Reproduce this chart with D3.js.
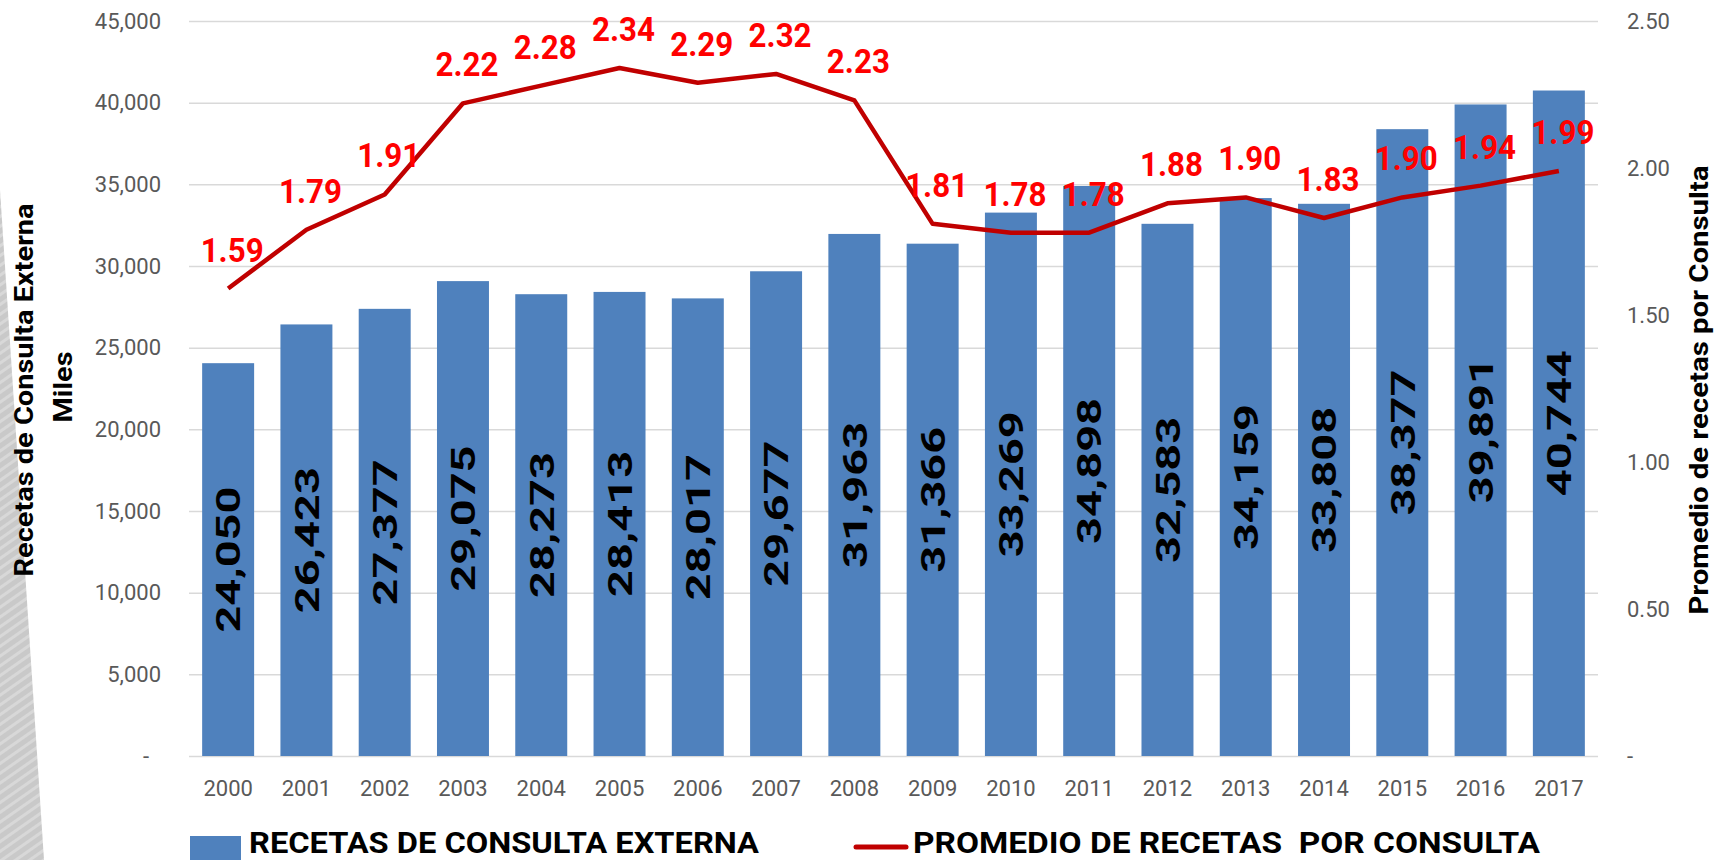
<!DOCTYPE html>
<html><head><meta charset="utf-8">
<script src="https://cdn.jsdelivr.net/npm/d3@7"></script>
<style>body{margin:0;background:#fff;overflow:hidden;} svg{display:block;}</style>
</head><body>
<svg id="chart" width="1719" height="860"></svg>
<script>
const years = ["2000","2001","2002","2003","2004","2005","2006","2007","2008","2009","2010","2011","2012","2013","2014","2015","2016","2017"];
const recetas = [24050,26423,27377,29075,28273,28413,28017,29677,31963,31366,33269,34898,32583,34159,33808,38377,39891,40744];
const promedio = [1.59,1.79,1.91,2.22,2.28,2.34,2.29,2.32,2.23,1.81,1.78,1.78,1.88,1.90,1.83,1.90,1.94,1.99];
const leftTicks = [0,5000,10000,15000,20000,25000,30000,35000,40000,45000];
const rightTicks = [0,0.5,1,1.5,2,2.5];
const legendLabels = ["RECETAS DE CONSULTA EXTERNA","PROMEDIO DE RECETAS  POR CONSULTA"];
const leftTitle = ["Recetas de Consulta Externa","Miles"];
const rightTitle = "Promedio de recetas por Consulta";

const svg = d3.select("#chart");
const X0 = 189, X1 = 1598, YT = 21, YB = 756;
const BLUE = "#4f81bd", RED = "#c00000";

// decorative background band at left edge
const defs = svg.append("defs");
const pat = defs.append("pattern").attr("id","hatch").attr("patternUnits","userSpaceOnUse")
  .attr("width",8).attr("height",8).attr("patternTransform","rotate(-35)");
pat.append("rect").attr("width",8).attr("height",8).attr("fill","#c9c9c9");
pat.append("rect").attr("width",8).attr("height",3).attr("fill","#d8d8d8");
svg.append("polygon").attr("points","0,190 44,860 0,860").attr("fill","url(#hatch)");

const x = d3.scaleBand().domain(years).range([X0, X1]).paddingInner(0.336).paddingOuter(0.168);
const y = d3.scaleLinear().domain([0,45000]).range([YB, YT]);
const y2 = d3.scaleLinear().domain([0,2.5]).range([YB, YT]);

// left axis + gridlines
const gl = svg.append("g").attr("transform",`translate(${X0},0)`)
  .call(d3.axisLeft(y).tickValues(leftTicks).tickSize(-(X1-X0)).tickPadding(28)
    .tickFormat(d => d === 0 ? "-" : d3.format(",")(d)));
gl.select(".domain").remove();
gl.selectAll(".tick line").attr("stroke","#d9d9d9").attr("stroke-width",1.5);
gl.selectAll(".tick text").attr("fill","#595959").style("font-family","Roboto").style("font-size","22px");
gl.selectAll(".tick text").filter(d => d === 0).attr("x", -40);

// right axis
const gr = svg.append("g").attr("transform",`translate(${X1},0)`)
  .call(d3.axisRight(y2).tickValues(rightTicks).tickSize(0).tickPadding(29)
    .tickFormat(d => d === 0 ? "-" : d3.format(".2f")(d)));
gr.select(".domain").remove();
gr.selectAll(".tick text").attr("fill","#595959").style("font-family","Roboto").style("font-size","22px");

// bottom axis
const gb = svg.append("g").attr("transform",`translate(0,${YB})`)
  .call(d3.axisBottom(x).tickSize(0).tickPadding(24));
gb.select(".domain").remove();
gb.selectAll(".tick text").attr("fill","#595959").style("font-family","Roboto").style("font-size","22px");

// bars
svg.append("g").selectAll("rect").data(years).join("rect")
  .attr("x", d => x(d)).attr("width", x.bandwidth())
  .attr("y", (d,i) => y(recetas[i])).attr("height", (d,i) => YB - y(recetas[i]))
  .attr("fill", BLUE);

// bar labels
svg.append("g").selectAll("text").data(years).join("text")
  .attr("transform", (d,i) => `translate(${x(d)+x.bandwidth()/2},${(y(recetas[i])+YB)/2}) rotate(-90)`)
  .attr("text-anchor","middle").attr("dy","0.36em")
  .attr("textLength",146).attr("lengthAdjust","spacingAndGlyphs")
  .style("font-family","Roboto").style("font-weight","bold").style("font-size","34px")
  .attr("fill","#000").text((d,i) => d3.format(",")(recetas[i]));

// line
const line = d3.line().x((d,i) => x(years[i]) + x.bandwidth()/2).y(d => y2(d));
svg.append("path").datum(promedio).attr("d", line).attr("fill","none")
  .attr("stroke",RED).attr("stroke-width",4.5).attr("stroke-linejoin","round");

// line labels
svg.append("g").selectAll("text").data(promedio).join("text")
  .attr("x", (d,i) => x(years[i]) + x.bandwidth()/2 + 4).attr("y", d => y2(d) - 27)
  .attr("text-anchor","middle")
  .attr("textLength",63).attr("lengthAdjust","spacingAndGlyphs")
  .style("font-family","Roboto").style("font-weight","bold").style("font-size","34px")
  .attr("fill","#ff0000").text(d => d3.format(".2f")(d));

// axis titles
const tfont = s => s.style("font-family","Roboto").style("font-weight","bold").style("font-size","25px").attr("fill","#000");
svg.append("text").attr("transform","translate(33,390) rotate(-90)").attr("text-anchor","middle")
  .attr("textLength",373).attr("lengthAdjust","spacingAndGlyphs").call(tfont).text(leftTitle[0]);
svg.append("text").attr("transform","translate(72,387) rotate(-90)").attr("text-anchor","middle")
  .attr("textLength",71).attr("lengthAdjust","spacingAndGlyphs").call(tfont).text(leftTitle[1]);
svg.append("text").attr("transform","translate(1708,390) rotate(-90)").attr("text-anchor","middle")
  .attr("textLength",449).attr("lengthAdjust","spacingAndGlyphs").call(tfont).text(rightTitle);

// legend
const lg = svg.append("g");
lg.append("rect").attr("x",190).attr("y",836).attr("width",51).attr("height",24).attr("fill",BLUE);
lg.append("text").attr("x",249).attr("y",853).attr("textLength",510).attr("lengthAdjust","spacingAndGlyphs")
  .style("font-family","Roboto").style("font-weight","bold").style("font-size","30px").style("white-space","pre")
  .attr("fill","#000").text(legendLabels[0]);
lg.append("line").attr("x1",856).attr("x2",906).attr("y1",847).attr("y2",847)
  .attr("stroke",RED).attr("stroke-width",5).attr("stroke-linecap","round");
lg.append("text").attr("x",913).attr("y",853).attr("textLength",627).attr("lengthAdjust","spacingAndGlyphs")
  .style("font-family","Roboto").style("font-weight","bold").style("font-size","30px").style("white-space","pre")
  .attr("fill","#000").text(legendLabels[1]);
</script>
</body></html>
